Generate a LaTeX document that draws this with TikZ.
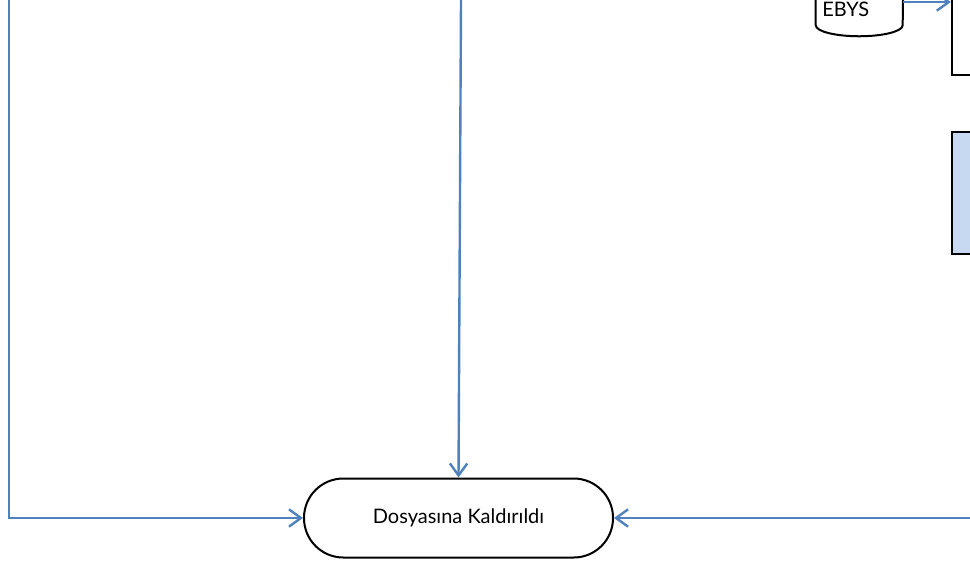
\documentclass[tikz,border=0pt]{standalone}
\usepackage{fontspec}
\setmainfont{Lato}
\usetikzlibrary{arrows.meta,positioning}
\definecolor{okmavi}{HTML}{4F81BD}
\definecolor{kutumavi}{HTML}{C6D9F1}

\begin{document}
\begin{tikzpicture}[x=0.75pt, y=-0.75pt,
      arr/.style={-{Straight Barb[length=9pt, width=13pt]}, line width=1.8pt, okmavi},
      bitis/.style={draw, line width=1.5pt, rounded corners=29.5pt,
                    minimum width=231.75pt, minimum height=59.25pt,
                    font=\fontsize{15}{18}\selectfont},
      veri/.style={minimum width=65.25pt, minimum height=34.5pt, inner sep=0pt},
      kutu/.style={draw, line width=1.8pt, minimum width=72pt},
    ]
    \useasboundingbox (0,0) rectangle (970,564);

    \node[bitis] (son) at (458.5,518) {Dosyasına Kaldırıldı};

    % EBYS veri kutusu (alti kavisli)
    \node[veri] (ebys) at (859.5,2) {};
    \draw[line width=1.5pt] (ebys.north west) -- (ebys.south west)
      arc[start angle=180, end angle=360, x radius=32.6pt, y radius=8.25pt]
      -- (ebys.north east);
    \node[anchor=west, inner sep=0pt, font=\fontsize{15}{18}\selectfont] (ebysyazi) at (822,9) {EBYS};

    \node[kutu, minimum height=84pt] (ustkutu) at (1000,19) {};
    \node[kutu, fill=kutumavi, minimum height=91.5pt] (mavikutu) at (1000,193) {};

    \coordinate (solust) at (9,0);
    \coordinate (ortaust) at (461,0);
    \coordinate (sagbas) at (970,518);

    \draw[arr] (solust) |- (son.west);
    \draw[arr] (ortaust) -- (son.north);
    \draw[arr] (sagbas) -- (son.east);
    \draw[arr] (ebys.east) -- (ustkutu.west |- ebys.east);
  \end{tikzpicture}
\end{document}
